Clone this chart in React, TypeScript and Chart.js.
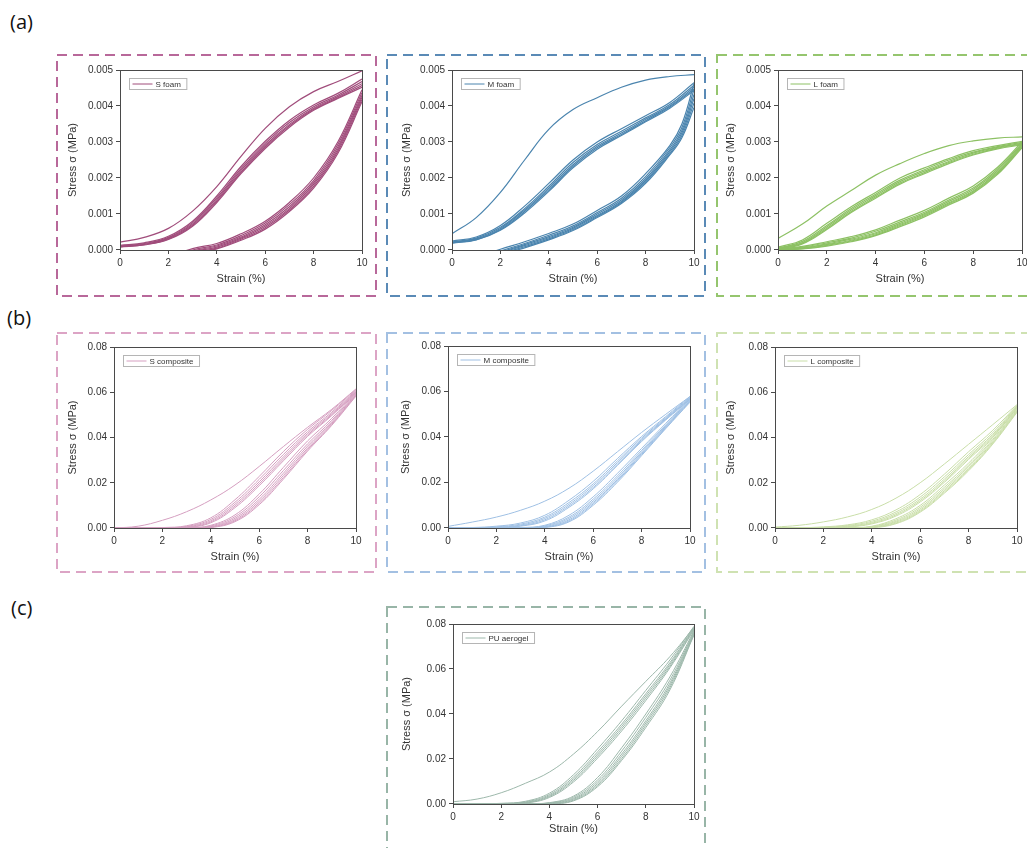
import React, { useEffect, useRef } from 'react';
import { Chart, registerables } from 'chart.js';

Chart.register(...registerables);

const FONT = '"Liberation Sans", Arial, Helvetica, sans-serif';

// common strain grid (%)
const STRAIN = [0, 1, 2, 3, 4, 5, 6, 7, 8, 9, 10];

// ---------- (a) S foam ----------
const S_FOAM_LOAD = [
  [0.00022, 0.00035, 0.0006, 0.00108, 0.00176, 0.0026, 0.00338, 0.00398, 0.0044, 0.00468, 0.00498],
  [0.00013, 0.0002, 0.00038, 0.0008, 0.0015, 0.00232, 0.00302, 0.0036, 0.00403, 0.00435, 0.00475],
  [0.00011, 0.00018, 0.00035, 0.00076, 0.00145, 0.00226, 0.00296, 0.00354, 0.00398, 0.0043, 0.00468],
  [0.0001, 0.00016, 0.00033, 0.00072, 0.0014, 0.00221, 0.00291, 0.00349, 0.00394, 0.00426, 0.00462],
  [0.00009, 0.00015, 0.00031, 0.00069, 0.00136, 0.00216, 0.00286, 0.00345, 0.00391, 0.00423, 0.00457],
  [0.00008, 0.00014, 0.00029, 0.00066, 0.00132, 0.00212, 0.00282, 0.00341, 0.00388, 0.00421, 0.00452],
];
const S_FOAM_UNLOAD_STRAIN = [2, 3, 4, 5, 6, 7, 8, 9, 10];
const S_FOAM_UNLOAD = [
  [-0.0002, 0.00004, 0.00018, 0.00045, 0.0008, 0.00132, 0.002, 0.003, 0.00445],
  [-0.0003, 0.0, 0.00014, 0.0004, 0.00075, 0.00126, 0.00193, 0.00293, 0.00437],
  [-0.0003, -0.00003, 0.00011, 0.00036, 0.0007, 0.0012, 0.00187, 0.00286, 0.0043],
  [-0.0004, -0.00006, 0.00008, 0.00033, 0.00066, 0.00115, 0.00182, 0.0028, 0.00424],
  [-0.0004, -0.00009, 0.00005, 0.0003, 0.00062, 0.00111, 0.00177, 0.00274, 0.00418],
  [-0.0005, -0.00012, 0.00003, 0.00027, 0.00058, 0.00107, 0.00172, 0.00268, 0.00412],
];

// ---------- (a) M foam ----------
const M_FOAM_LOAD = [
  [0.00045, 0.0009, 0.0016, 0.0025, 0.00335, 0.0039, 0.00423, 0.00452, 0.00472, 0.00482, 0.00487],
  [0.00025, 0.00036, 0.00068, 0.00122, 0.00185, 0.0025, 0.003, 0.00337, 0.00373, 0.0041, 0.00465],
  [0.00022, 0.00033, 0.00063, 0.00115, 0.00177, 0.00243, 0.00293, 0.0033, 0.00367, 0.00404, 0.00458],
  [0.00021, 0.00031, 0.0006, 0.00111, 0.00172, 0.00237, 0.00288, 0.00325, 0.00363, 0.004, 0.00452],
  [0.0002, 0.00029, 0.00057, 0.00107, 0.00167, 0.00232, 0.00284, 0.00321, 0.00359, 0.00397, 0.00447],
  [0.00019, 0.00028, 0.00055, 0.00103, 0.00163, 0.00228, 0.0028, 0.00318, 0.00356, 0.00394, 0.00443],
];
const M_FOAM_UNLOAD_STRAIN = [1, 2, 3, 4, 5, 6, 7, 8, 9, 9.5, 10];
const M_FOAM_UNLOAD = [
  [-0.0002, 0.00002, 0.00023, 0.00046, 0.00072, 0.0011, 0.0015, 0.00212, 0.0029, 0.0035, 0.00462],
  [-0.0003, -0.00003, 0.00018, 0.00041, 0.00067, 0.00104, 0.00144, 0.00204, 0.00284, 0.0034, 0.00446],
  [-0.0003, -0.00006, 0.00015, 0.00037, 0.00063, 0.001, 0.00139, 0.00198, 0.00278, 0.00332, 0.00432],
  [-0.0004, -0.00009, 0.00012, 0.00034, 0.0006, 0.00096, 0.00135, 0.00193, 0.00273, 0.00325, 0.0042],
  [-0.0004, -0.00012, 0.00009, 0.00031, 0.00057, 0.00093, 0.00132, 0.00189, 0.00268, 0.00318, 0.00408],
  [-0.0005, -0.00015, 0.00006, 0.00028, 0.00054, 0.0009, 0.00129, 0.00185, 0.00264, 0.00312, 0.00396],
];

// ---------- (a) L foam ----------
const L_FOAM_LOAD = [
  [0.00032, 0.00072, 0.00122, 0.00165, 0.00208, 0.0024, 0.00268, 0.0029, 0.00303, 0.00311, 0.00314],
  [0.00008, 0.00028, 0.00074, 0.0012, 0.0016, 0.002, 0.00228, 0.00254, 0.00276, 0.0029, 0.00302],
  [0.00005, 0.00024, 0.00068, 0.00115, 0.00155, 0.00194, 0.00223, 0.0025, 0.00272, 0.00287, 0.00299],
  [0.00004, 0.00021, 0.00064, 0.00111, 0.00151, 0.0019, 0.00219, 0.00246, 0.00269, 0.00285, 0.00296],
  [0.00003, 0.00019, 0.0006, 0.00107, 0.00147, 0.00186, 0.00215, 0.00243, 0.00266, 0.00283, 0.00294],
  [0.00002, 0.00017, 0.00057, 0.00104, 0.00144, 0.00183, 0.00212, 0.0024, 0.00264, 0.00281, 0.00292],
];
const L_FOAM_UNLOAD_STRAIN = STRAIN;
const L_FOAM_UNLOAD = [
  [0.00003, 0.0001, 0.00023, 0.00037, 0.00056, 0.00083, 0.0011, 0.00144, 0.00178, 0.0023, 0.003],
  [0.00002, 0.00008, 0.0002, 0.00033, 0.00052, 0.00078, 0.00105, 0.00139, 0.00172, 0.00225, 0.00296],
  [0.00001, 0.00006, 0.00017, 0.0003, 0.00048, 0.00074, 0.00101, 0.00135, 0.00168, 0.0022, 0.00293],
  [0.0, 0.00005, 0.00015, 0.00027, 0.00045, 0.00071, 0.00098, 0.00131, 0.00164, 0.00216, 0.0029],
  [0.0, 0.00004, 0.00013, 0.00025, 0.00042, 0.00068, 0.00095, 0.00128, 0.00161, 0.00213, 0.00287],
  [0.0, 0.00003, 0.00011, 0.00023, 0.0004, 0.00065, 0.00092, 0.00125, 0.00158, 0.0021, 0.00284],
];

// ---------- (b) S composite ----------
const S_COMP_LOAD = [
  [0.0, 0.0008, 0.0034, 0.0072, 0.0124, 0.019, 0.0272, 0.036, 0.0445, 0.0525, 0.0615],
  [0.0, 0.0, 0.0002, 0.001, 0.0045, 0.0125, 0.0228, 0.0338, 0.0436, 0.052, 0.0612],
  [0.0, 0.0, 0.0, 0.0007, 0.0038, 0.0114, 0.0215, 0.0325, 0.0426, 0.0512, 0.0608],
  [0.0, 0.0, 0.0, 0.0005, 0.0032, 0.0105, 0.0204, 0.0314, 0.0418, 0.0506, 0.0604],
  [0.0, 0.0, 0.0, 0.0003, 0.0027, 0.0097, 0.0195, 0.0305, 0.0411, 0.0501, 0.0601],
  [0.0, 0.0, 0.0, 0.0002, 0.0023, 0.009, 0.0187, 0.0297, 0.0405, 0.0497, 0.0598],
];
const S_COMP_UNLOAD_STRAIN = STRAIN;
const S_COMP_UNLOAD = [
  [0.0, 0.0, 0.0, 0.0, 0.0012, 0.0058, 0.015, 0.0268, 0.0385, 0.0485, 0.06],
  [0.0, 0.0, 0.0, 0.0, 0.0009, 0.005, 0.0138, 0.0254, 0.0372, 0.0476, 0.0596],
  [0.0, 0.0, 0.0, 0.0, 0.0006, 0.0043, 0.0127, 0.0242, 0.0362, 0.0469, 0.0592],
  [0.0, 0.0, 0.0, 0.0, 0.0004, 0.0037, 0.0118, 0.0232, 0.0353, 0.0463, 0.0589],
  [0.0, 0.0, 0.0, 0.0, 0.0003, 0.0032, 0.011, 0.0223, 0.0346, 0.0458, 0.0586],
  [0.0, 0.0, 0.0, 0.0, 0.0002, 0.0028, 0.0103, 0.0216, 0.034, 0.0454, 0.0583],
];

// ---------- (b) M composite ----------
const M_COMP_LOAD = [
  [0.0007, 0.0026, 0.0048, 0.0078, 0.0118, 0.0175, 0.025, 0.0335, 0.042, 0.05, 0.0578],
  [0.0, 0.0002, 0.0008, 0.0022, 0.0056, 0.0122, 0.0205, 0.0305, 0.0402, 0.049, 0.0578],
  [0.0, 0.0, 0.0005, 0.0017, 0.0048, 0.0112, 0.0194, 0.0295, 0.0395, 0.0485, 0.0574],
  [0.0, 0.0, 0.0003, 0.0013, 0.0042, 0.0104, 0.0186, 0.0287, 0.0389, 0.0481, 0.0571],
  [0.0, 0.0, 0.0002, 0.001, 0.0036, 0.0097, 0.0178, 0.028, 0.0384, 0.0478, 0.0568],
  [0.0, 0.0, 0.0, 0.0008, 0.0031, 0.0091, 0.0172, 0.0275, 0.038, 0.0475, 0.0565],
];
const M_COMP_UNLOAD_STRAIN = STRAIN;
const M_COMP_UNLOAD = [
  [0.0, 0.0, 0.0, 0.0002, 0.0012, 0.0056, 0.0137, 0.024, 0.035, 0.046, 0.057],
  [0.0, 0.0, 0.0, 0.0, 0.0009, 0.0048, 0.0127, 0.0229, 0.0341, 0.0453, 0.0566],
  [0.0, 0.0, 0.0, 0.0, 0.0006, 0.0042, 0.0119, 0.022, 0.0334, 0.0448, 0.0562],
  [0.0, 0.0, 0.0, 0.0, 0.0004, 0.0036, 0.0112, 0.0213, 0.0328, 0.0444, 0.0559],
  [0.0, 0.0, 0.0, 0.0, 0.0003, 0.0031, 0.0106, 0.0207, 0.0323, 0.044, 0.0556],
  [0.0, 0.0, 0.0, 0.0, 0.0002, 0.0027, 0.01, 0.0201, 0.0318, 0.0437, 0.0553],
];

// ---------- (b) L composite ----------
const L_COMP_LOAD = [
  [0.0004, 0.0012, 0.0027, 0.0049, 0.0082, 0.0132, 0.02, 0.0283, 0.037, 0.0457, 0.0545],
  [0.0, 0.0001, 0.0005, 0.0014, 0.0036, 0.008, 0.0148, 0.0238, 0.0337, 0.0432, 0.0542],
  [0.0, 0.0, 0.0003, 0.0011, 0.003, 0.0071, 0.0137, 0.0226, 0.0325, 0.0422, 0.0539],
  [0.0, 0.0, 0.0002, 0.0008, 0.0025, 0.0064, 0.0128, 0.0216, 0.0316, 0.0414, 0.0536],
  [0.0, 0.0, 0.0, 0.0006, 0.0021, 0.0058, 0.0121, 0.0208, 0.0309, 0.0408, 0.0533],
  [0.0, 0.0, 0.0, 0.0004, 0.0018, 0.0053, 0.0115, 0.0202, 0.0303, 0.0403, 0.053],
];
const L_COMP_UNLOAD_STRAIN = STRAIN;
const L_COMP_UNLOAD = [
  [0.0, 0.0, 0.0, 0.0001, 0.0008, 0.0041, 0.01, 0.019, 0.0287, 0.04, 0.0528],
  [0.0, 0.0, 0.0, 0.0, 0.0006, 0.0035, 0.0092, 0.018, 0.0278, 0.0392, 0.0524],
  [0.0, 0.0, 0.0, 0.0, 0.0004, 0.003, 0.0085, 0.0172, 0.0271, 0.0386, 0.052],
  [0.0, 0.0, 0.0, 0.0, 0.0003, 0.0026, 0.0079, 0.0165, 0.0264, 0.038, 0.0517],
  [0.0, 0.0, 0.0, 0.0, 0.0002, 0.0022, 0.0074, 0.0159, 0.0258, 0.0375, 0.0514],
  [0.0, 0.0, 0.0, 0.0, 0.0001, 0.0019, 0.007, 0.0154, 0.0253, 0.0371, 0.0511],
];

// ---------- (c) PU aerogel ----------
const PU_LOAD = [
  [0.001, 0.0022, 0.005, 0.0092, 0.0142, 0.0222, 0.0322, 0.0435, 0.0545, 0.0655, 0.0785],
  [0.0, 0.0001, 0.0003, 0.0012, 0.0048, 0.013, 0.0245, 0.037, 0.0505, 0.064, 0.079],
  [0.0, 0.0, 0.0002, 0.0009, 0.0042, 0.012, 0.0232, 0.0355, 0.049, 0.0628, 0.0786],
  [0.0, 0.0, 0.0001, 0.0007, 0.0037, 0.0112, 0.0222, 0.0345, 0.048, 0.062, 0.0782],
  [0.0, 0.0, 0.0, 0.0005, 0.0033, 0.0105, 0.0213, 0.0335, 0.047, 0.0612, 0.0778],
  [0.0, 0.0, 0.0, 0.0004, 0.0029, 0.0098, 0.0204, 0.0325, 0.046, 0.0605, 0.0774],
];
const PU_UNLOAD_STRAIN = STRAIN;
const PU_UNLOAD = [
  [0.0, 0.0, 0.0, 0.0, 0.0006, 0.0035, 0.0118, 0.025, 0.04, 0.0565, 0.077],
  [0.0, 0.0, 0.0, 0.0, 0.0004, 0.003, 0.0107, 0.0235, 0.0385, 0.055, 0.0765],
  [0.0, 0.0, 0.0, 0.0, 0.0003, 0.0025, 0.0098, 0.0222, 0.037, 0.0537, 0.0761],
  [0.0, 0.0, 0.0, 0.0, 0.0002, 0.0021, 0.009, 0.0212, 0.036, 0.0527, 0.0757],
  [0.0, 0.0, 0.0, 0.0, 0.0001, 0.0017, 0.0083, 0.0202, 0.035, 0.0517, 0.0754],
  [0.0, 0.0, 0.0, 0.0, 0.0, 0.0014, 0.0077, 0.0194, 0.034, 0.0507, 0.0751],
];

const X_TITLE = 'Strain (%)';
const Y_TITLE = 'Stress σ (MPa)';
const SECTION_LABELS = ['(a)', '(b)', '(c)'];

const FOAM_AXIS = { max: 0.005, step: 0.001, dec: 3 };
const COMP_AXIS = { max: 0.08, step: 0.02, dec: 2 };

// layout (page coordinates): dashed box, plot area, title centres
const PANELS = [
  { label: 'S foam', color: '#a04c7b', boxColor: '#b8689a', lw: 1.2, load: S_FOAM_LOAD, unload: S_FOAM_UNLOAD, unloadStrain: S_FOAM_UNLOAD_STRAIN, axis: FOAM_AXIS,
    box: [57, 55, 376, 296], plot: [120, 70, 362, 250], yTitleX: 73, xTitleY: 279 },
  { label: 'M foam', color: '#4a84ae', boxColor: '#5a8ab6', lw: 1.2, load: M_FOAM_LOAD, unload: M_FOAM_UNLOAD, unloadStrain: M_FOAM_UNLOAD_STRAIN, axis: FOAM_AXIS,
    box: [387, 55, 705, 296], plot: [452, 70, 694, 250], yTitleX: 407, xTitleY: 279 },
  { label: 'L foam', color: '#8dc164', boxColor: '#95c56e', lw: 1.2, load: L_FOAM_LOAD, unload: L_FOAM_UNLOAD, unloadStrain: L_FOAM_UNLOAD_STRAIN, axis: FOAM_AXIS,
    box: [717, 55, 1040, 296], plot: [778, 70, 1022, 250], yTitleX: 731, xTitleY: 279 },
  { label: 'S composite', color: '#d59fc0', boxColor: '#dca4c5', lw: 1, load: S_COMP_LOAD, unload: S_COMP_UNLOAD, unloadStrain: S_COMP_UNLOAD_STRAIN, axis: COMP_AXIS,
    box: [57, 333, 376, 572], plot: [114, 347, 356, 528], yTitleX: 73, xTitleY: 557 },
  { label: 'M composite', color: '#9fc0e4', boxColor: '#a3c0e2', lw: 1, load: M_COMP_LOAD, unload: M_COMP_UNLOAD, unloadStrain: M_COMP_UNLOAD_STRAIN, axis: COMP_AXIS,
    box: [387, 333, 705, 572], plot: [448, 346, 690, 528], yTitleX: 406, xTitleY: 557 },
  { label: 'L composite', color: '#c9dea8', boxColor: '#cfe2b2', lw: 1, load: L_COMP_LOAD, unload: L_COMP_UNLOAD, unloadStrain: L_COMP_UNLOAD_STRAIN, axis: COMP_AXIS,
    box: [717, 333, 1040, 572], plot: [775, 347, 1017, 528], yTitleX: 731, xTitleY: 557 },
  { label: 'PU aerogel', color: '#9db8ab', boxColor: '#98b5a7', lw: 1, load: PU_LOAD, unload: PU_UNLOAD, unloadStrain: PU_UNLOAD_STRAIN, axis: COMP_AXIS,
    box: [387, 607, 705, 870], plot: [453, 624, 694, 804], yTitleX: 407, xTitleY: 829 },
];

const PAGE_W = 1027;
const PAGE_H = 848;
const TITLE_SIZE = 11;
const TITLE_LH = TITLE_SIZE * 1.2;
const AXIS_COLOR = '#4a4a4a';
const TEXT_COLOR = '#333333';

const framePlugin = {
  id: 'frame',
  afterDatasetsDraw(chart: any) {
    const { ctx, chartArea } = chart;
    const l = Math.round(chartArea.left) + 0.5;
    const t = Math.round(chartArea.top) + 0.5;
    const r = Math.round(chartArea.right) + 0.5;
    const b = Math.round(chartArea.bottom) + 0.5;
    ctx.save();
    ctx.strokeStyle = AXIS_COLOR;
    ctx.lineWidth = 1;
    ctx.strokeRect(l, t, r - l, b - t);
    ctx.restore();
  },
};

const boxLegendPlugin = {
  id: 'boxLegend',
  afterDraw(chart: any, _args: any, opts: any) {
    if (!opts || !opts.text) return;
    const { ctx, chartArea } = chart;
    ctx.save();
    ctx.font = `8px ${FONT}`;
    const tw = ctx.measureText(opts.text).width;
    const x = Math.round(chartArea.left) + 9.5;
    const y = Math.round(chartArea.top) + 8.5;
    const h = 11;
    const w = 26 + tw + 6;
    ctx.fillStyle = '#ffffff';
    ctx.fillRect(x, y, w, h);
    ctx.strokeStyle = '#b5b5b5';
    ctx.lineWidth = 1;
    ctx.strokeRect(x, y, w, h);
    ctx.strokeStyle = opts.color;
    ctx.beginPath();
    ctx.moveTo(x + 3, y + h / 2);
    ctx.lineTo(x + 23, y + h / 2);
    ctx.stroke();
    ctx.fillStyle = TEXT_COLOR;
    ctx.textBaseline = 'middle';
    ctx.fillText(opts.text, x + 26, y + h / 2 + 0.5);
    ctx.restore();
  },
};

function buildDatasets(p: any) {
  const ds: any[] = [];
  const style = {
    borderColor: p.color,
    borderWidth: p.lw,
    pointRadius: 0,
    fill: false,
    tension: 0.4,
  };
  p.load.forEach((ys: number[]) => {
    ds.push({ ...style, data: ys.map((y, i) => ({ x: STRAIN[i], y })) });
  });
  p.unload.forEach((ys: number[]) => {
    ds.push({ ...style, data: ys.map((y, i) => ({ x: p.unloadStrain[i], y })) });
  });
  return ds;
}

function Panel({ p }: { p: any }) {
  const ref = useRef<HTMLCanvasElement | null>(null);
  const left = Math.max(0, p.box[0]);
  const top = Math.max(0, p.box[1]);
  const right = Math.min(PAGE_W, p.box[2]);
  const bottom = Math.min(PAGE_H, p.box[3]);
  const width = right - left;
  const height = bottom - top;
  const [L, T, R, B] = p.plot;
  const padLeft = p.yTitleX - left - TITLE_LH / 2;
  const yAxisW = L - left - padLeft;
  const padTop = T - top;
  const padRight = right - R;
  const padBottom = bottom - p.xTitleY - TITLE_LH / 2;
  const xAxisH = bottom - padBottom - B;

  useEffect(() => {
    if (!ref.current) return;
    const tickFont = { family: FONT, size: 10 };
    const titleFont = { family: FONT, size: TITLE_SIZE };
    const chart = new Chart(ref.current, {
      type: 'line',
      data: { datasets: buildDatasets(p) },
      options: {
        animation: false,
        responsive: false,
        maintainAspectRatio: false,
        layout: { padding: { left: padLeft, top: padTop, right: padRight, bottom: padBottom } },
        plugins: {
          legend: { display: false },
          tooltip: { enabled: false },
          boxLegend: { text: p.label, color: p.color },
        } as any,
        scales: {
          x: {
            type: 'linear',
            min: 0,
            max: 10,
            ticks: { stepSize: 2, font: tickFont, color: TEXT_COLOR, padding: 3, maxRotation: 0, autoSkip: false },
            grid: { drawOnChartArea: false, drawTicks: true, tickLength: 4, color: AXIS_COLOR },
            border: { display: false },
            title: { display: true, text: X_TITLE, font: titleFont, color: TEXT_COLOR, padding: 0 },
            afterFit: (s: any) => {
              s.height = xAxisH;
              s.paddingLeft = 0;
              s.paddingRight = 0;
              s.paddingTop = 0;
              s.paddingBottom = 0;
            },
          },
          y: {
            type: 'linear',
            min: 0,
            max: p.axis.max,
            ticks: {
              stepSize: p.axis.step,
              font: tickFont,
              color: TEXT_COLOR,
              padding: 3,
              callback: (v: any) => Number(v).toFixed(p.axis.dec),
            },
            grid: { drawOnChartArea: false, drawTicks: true, tickLength: 4, color: AXIS_COLOR },
            border: { display: false },
            title: { display: true, text: Y_TITLE, font: titleFont, color: TEXT_COLOR, padding: 0 },
            afterFit: (s: any) => {
              s.width = yAxisW;
              s.paddingLeft = 0;
              s.paddingRight = 0;
              s.paddingTop = 0;
              s.paddingBottom = 0;
            },
          },
        },
      } as any,
      plugins: [framePlugin, boxLegendPlugin],
    });
    return () => chart.destroy();
  }, []);

  return (
    <canvas
      ref={ref}
      width={width}
      height={height}
      style={{ position: 'absolute', left, top, width, height, display: 'block' }}
    />
  );
}

const LABEL_TOPS = [9, 305, 595];
const LABEL_LEFTS = [10, 7, 11];

export default function App() {
  return (
    <div
      style={{
        position: 'absolute',
        left: 0,
        top: 0,
        width: PAGE_W,
        height: PAGE_H,
        overflow: 'hidden',
        background: '#ffffff',
      }}
    >
      <svg width={PAGE_W} height={PAGE_H} style={{ position: 'absolute', left: 0, top: 0 }}>
        {PANELS.map((p, i) => (
          <rect
            key={i}
            x={p.box[0]}
            y={p.box[1]}
            width={p.box[2] - p.box[0]}
            height={p.box[3] - p.box[1]}
            fill="none"
            stroke={p.boxColor}
            strokeWidth={2}
            strokeDasharray="10 6"
          />
        ))}
      </svg>
      {SECTION_LABELS.map((t, i) => (
        <div
          key={t}
          style={{
            position: 'absolute',
            left: LABEL_LEFTS[i],
            top: LABEL_TOPS[i],
            fontFamily: '"Open Sans", "Noto Sans", sans-serif',
            fontSize: 20,
            lineHeight: '26px',
            color: '#111',
          }}
        >
          {t}
        </div>
      ))}
      {PANELS.map((p, i) => (
        <Panel key={i} p={p} />
      ))}
    </div>
  );
}
